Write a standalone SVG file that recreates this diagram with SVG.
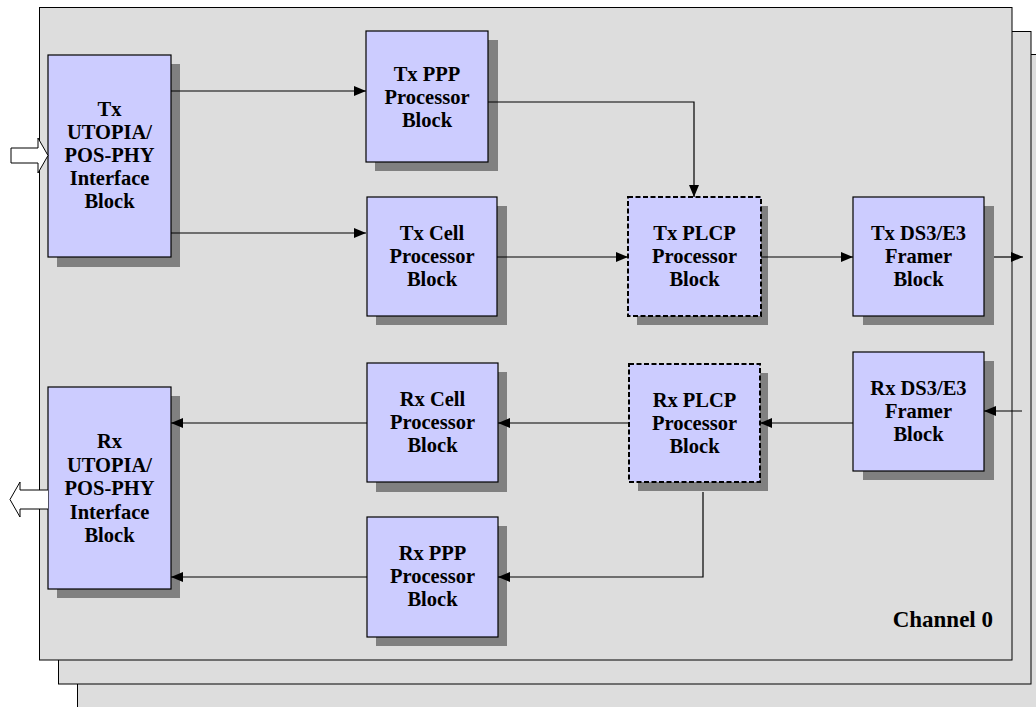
<svg xmlns="http://www.w3.org/2000/svg" width="1036" height="707" viewBox="0 0 1036 707">
<defs>
<style>
.panel{fill:#dddddd;stroke:#000;stroke-width:1}
.shadow{fill:#808080}
.box{fill:#ccccff;stroke:#000;stroke-width:1.2}
.dbox{fill:#ccccff;stroke:#000;stroke-width:2;stroke-dasharray:5 2.5}
.lbl{font-family:"Liberation Serif","Times New Roman",serif;font-weight:bold;font-size:20.5px;fill:#000;text-anchor:middle}
.conn{fill:none;stroke:#000;stroke-width:1.2}
.hollow{fill:#fff;stroke:#000;stroke-width:1}
</style>
<marker id="ah" markerWidth="12" markerHeight="10" refX="12" refY="5" orient="auto" markerUnits="userSpaceOnUse">
<path d="M0,0 L12,5 L0,10 Z" fill="#000"/>
</marker>
</defs>
<rect x="0" y="0" width="1036" height="707" fill="#fff"/>
<g id="panels">
<rect class="panel" x="77.5" y="54.5" width="970" height="670"/>
<rect class="panel" x="58.5" y="31.5" width="972.5" height="652.5"/>
<rect class="panel" x="39.5" y="7.5" width="972.5" height="652.5"/>
</g>
<g id="tx-utopia">
<rect class="shadow" x="57" y="64" width="123" height="203"/>
<rect class="box" x="48" y="55" width="123" height="202"/>
<text class="lbl" x="109.5" y="116">Tx</text>
<text class="lbl" x="109.5" y="139">UTOPIA/</text>
<text class="lbl" x="109.5" y="162">POS-PHY</text>
<text class="lbl" x="109.5" y="185">Interface</text>
<text class="lbl" x="109.5" y="208">Block</text>
</g>
<g id="rx-utopia">
<rect class="shadow" x="57" y="396" width="123" height="202"/>
<rect class="box" x="48" y="387" width="123" height="202"/>
<text class="lbl" x="109.5" y="448">Rx</text>
<text class="lbl" x="109.5" y="471.5">UTOPIA/</text>
<text class="lbl" x="109.5" y="495">POS-PHY</text>
<text class="lbl" x="109.5" y="518.5">Interface</text>
<text class="lbl" x="109.5" y="542">Block</text>
</g>
<g id="tx-ppp">
<rect class="shadow" x="375" y="40" width="123" height="131"/>
<rect class="box" x="366" y="31" width="122" height="131"/>
<text class="lbl" x="427" y="81">Tx PPP</text>
<text class="lbl" x="427" y="104">Processor</text>
<text class="lbl" x="427" y="127">Block</text>
</g>
<g id="tx-cell">
<rect class="shadow" x="376" y="206" width="131" height="119"/>
<rect class="box" x="367" y="197" width="130" height="119"/>
<text class="lbl" x="432" y="240">Tx Cell</text>
<text class="lbl" x="432" y="263">Processor</text>
<text class="lbl" x="432" y="286">Block</text>
</g>
<g id="tx-plcp">
<rect class="shadow" x="637" y="206" width="131" height="119"/>
<rect class="dbox" x="628" y="197" width="133" height="119"/>
<text class="lbl" x="694.5" y="240">Tx PLCP</text>
<text class="lbl" x="694.5" y="263">Processor</text>
<text class="lbl" x="694.5" y="286">Block</text>
</g>
<g id="tx-ds3">
<rect class="shadow" x="863" y="206" width="131" height="119"/>
<rect class="box" x="853" y="197" width="131" height="119"/>
<text class="lbl" x="918.5" y="240">Tx DS3/E3</text>
<text class="lbl" x="918.5" y="263">Framer</text>
<text class="lbl" x="918.5" y="286">Block</text>
</g>
<g id="rx-ds3">
<rect class="shadow" x="863" y="361" width="131" height="119"/>
<rect class="box" x="853" y="352" width="131" height="119"/>
<text class="lbl" x="918.5" y="395">Rx DS3/E3</text>
<text class="lbl" x="918.5" y="418">Framer</text>
<text class="lbl" x="918.5" y="441">Block</text>
</g>
<g id="rx-plcp">
<rect class="shadow" x="638" y="373" width="130" height="118"/>
<rect class="dbox" x="629" y="364" width="131" height="118"/>
<text class="lbl" x="694.5" y="407">Rx PLCP</text>
<text class="lbl" x="694.5" y="430">Processor</text>
<text class="lbl" x="694.5" y="453">Block</text>
</g>
<g id="rx-cell">
<rect class="shadow" x="376" y="372" width="131" height="120"/>
<rect class="box" x="367" y="363" width="131" height="119"/>
<text class="lbl" x="432.5" y="406">Rx Cell</text>
<text class="lbl" x="432.5" y="429">Processor</text>
<text class="lbl" x="432.5" y="452">Block</text>
</g>
<g id="rx-ppp">
<rect class="shadow" x="376" y="526" width="131" height="120"/>
<rect class="box" x="367" y="517" width="131" height="120"/>
<text class="lbl" x="432.5" y="560">Rx PPP</text>
<text class="lbl" x="432.5" y="583">Processor</text>
<text class="lbl" x="432.5" y="606">Block</text>
</g>
<g id="connectors">
<path class="conn" d="M171,91 H366" marker-end="url(#ah)"/>
<path class="conn" d="M171,233 H366" marker-end="url(#ah)"/>
<path class="conn" d="M488,102 H694 V197" marker-end="url(#ah)"/>
<path class="conn" d="M497,257 H628" marker-end="url(#ah)"/>
<path class="conn" d="M761,257 H853" marker-end="url(#ah)"/>
<path class="conn" d="M994,257 H1023" marker-end="url(#ah)"/>
<path class="conn" d="M1022,411 H984" marker-end="url(#ah)"/>
<path class="conn" d="M853,423 H760" marker-end="url(#ah)"/>
<path class="conn" d="M629,423 H498" marker-end="url(#ah)"/>
<path class="conn" d="M367,423 H171" marker-end="url(#ah)"/>
<path class="conn" d="M703,492 V577 H498" marker-end="url(#ah)"/>
<path class="conn" d="M367,577 H171" marker-end="url(#ah)"/>
<path class="hollow" d="M11,148 H38 V138 L48,155.5 L38,173 V163 H11 Z"/>
<path class="hollow" d="M48,490 H20 V482 L10,499.5 L20,517 V509 H48"/>
</g>
<g id="channel-label">
<text class="lbl" x="993" y="627" style="text-anchor:end;font-size:23px">Channel 0</text>
</g>
</svg>
